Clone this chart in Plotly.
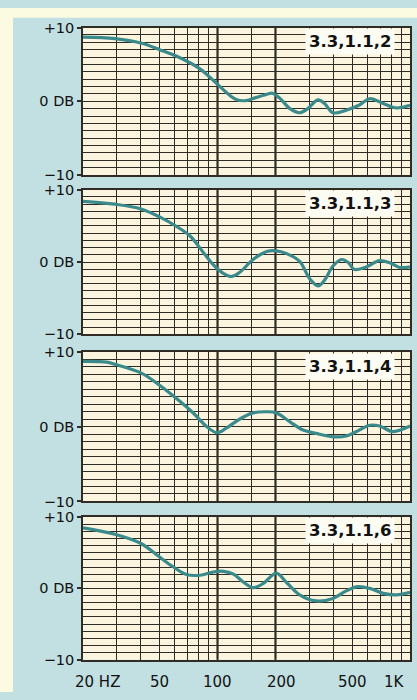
import math
import plotly.graph_objects as go

# ---------------- data ----------------
freq1 = [20, 29.3, 40, 50, 61.4, 81, 99, 116, 126, 141, 158, 183, 193, 211, 238, 267, 294, 332, 360, 398, 466, 546, 618, 726, 852, 1000]
db1 = [8.7, 8.5, 7.9, 7.0, 6.1, 4.4, 2.4, 0.8, 0.2, 0.1, 0.5, 1.0, 1.1, 0.4, -1.0, -1.55, -1.0, 0.2, -0.3, -1.55, -1.2, -0.5, 0.35, -0.3, -0.9, -0.55]

freq2 = [20, 29.3, 40, 50, 61, 72, 84, 95, 107, 118, 130, 153, 180, 202, 227, 267, 301, 333, 360, 398, 442, 479, 512, 583, 695, 784, 883, 1000]
db2 = [8.4, 8.0, 7.35, 6.25, 4.95, 3.6, 1.4, -0.35, -1.55, -2.0, -1.45, 0.35, 1.45, 1.55, 1.2, 0.1, -2.3, -3.3, -2.5, -0.55, 0.35, -0.1, -1.0, -0.75, 0.2, -0.1, -0.75, -0.65]

freq3 = [20, 26.6, 29.3, 40, 50, 61, 75, 88, 99, 111, 130, 153, 180, 202, 238, 278, 325, 398, 466, 527, 618, 695, 815, 1000]
db3 = [8.75, 8.65, 8.35, 7.2, 5.55, 3.8, 1.8, 0.0, -0.8, -0.2, 1.0, 1.85, 2.0, 1.85, 0.65, -0.45, -0.9, -1.35, -1.25, -0.65, 0.2, 0.1, -0.65, 0.1]

freq4 = [20, 29.3, 40, 50, 59, 69, 81, 95, 107, 121, 136, 153, 173, 202, 227, 267, 325, 398, 466, 536, 618, 726, 852, 1000]
db4 = [8.5, 7.6, 6.3, 4.4, 3.0, 1.95, 1.85, 2.3, 2.4, 2.0, 0.9, 0.1, 0.7, 2.15, 0.9, -0.9, -1.75, -1.4, -0.35, 0.25, 0.0, -0.7, -0.9, -0.55]

series_freqs = [freq1, freq2, freq3, freq4]
series_db = [db1, db2, db3, db4]
panel_labels = ["3.3,1.1,2", "3.3,1.1,3", "3.3,1.1,4", "3.3,1.1,6"]

y_tick_vals = [10, 0, -10]
y_tick_text = ["+10", "0 DB", "\u221210"]

grid_freqs = [30, 40, 50, 60, 70, 80, 90, 100, 150, 200, 300, 400, 500, 600, 700, 800, 900]
heavy_grid_freqs = [100, 200]

x_label_freqs = [20, 50, 100, 200, 500, 1000]
x_label_text = ["20 HZ", "50", "100", "200", "500", "1K"]

# ---------------- layout constants ----------------
W, H = 417, 700
px_rows = [(20, 171), (186, 334), (352, 505), (521, 667)]
x_dom = [83 / W, 410 / W]
x_range = [math.log10(20) - 1e-6, math.log10(1000) + 1e-6]

BLUE = "#c2dfe1"
PALE = "#fbfbe2"
CREAM = "#fbf5e0"
GRID = "#2e2c24"
CURVE = "#3a8a8c"
FONT = "DejaVu Sans"

fig = go.Figure()

for i in range(4):
    n = "" if i == 0 else str(i + 1)
    top, bot = px_rows[i]
    fig.add_trace(go.Scatter(
        x=series_freqs[i], y=series_db[i], mode="lines",
        line=dict(color=CURVE, width=3.2, shape="spline", smoothing=1.0),
        xaxis="x" + n, yaxis="y" + n, showlegend=False, hoverinfo="skip",
    ))
    fig.layout["xaxis" + n] = dict(
        type="log", range=x_range, domain=x_dom, anchor="y" + n,
        tickvals=grid_freqs, showticklabels=False, ticks="",
        showgrid=True, gridcolor=GRID, gridwidth=1.3,
        showline=True, linecolor=GRID, linewidth=1.6, mirror=True,
        zeroline=False, fixedrange=True,
    )
    fig.layout["yaxis" + n] = dict(
        range=[-10, 10], domain=[1 - bot / H, 1 - top / H], anchor="x" + n,
        tickvals=y_tick_vals, ticktext=y_tick_text,
        ticks="outside", ticklen=4, tickcolor=GRID, tickwidth=1.5,
        tickfont=dict(family=FONT, size=14.5, color="#111111"),
        showgrid=True, gridcolor=GRID, gridwidth=1.3,
        minor=dict(dtick=1, showgrid=True, gridcolor=GRID, gridwidth=1.3),
        showline=True, linecolor=GRID, linewidth=1.6, mirror=True,
        zeroline=False, fixedrange=True,
    )
    for f in heavy_grid_freqs:
        fig.add_shape(type="line", xref="x" + n, yref="y" + n + " domain",
                      x0=f, x1=f, y0=0, y1=1, line=dict(color=GRID, width=2.2), layer="below")
    fig.add_annotation(
        text="<b>" + panel_labels[i] + "</b>",
        xref="x" + n + " domain", yref="y" + n + " domain",
        x=0.815, y=0.905, xanchor="center", yanchor="middle",
        showarrow=False, bgcolor="#fdfcf3", borderpad=3,
        font=dict(family=FONT, size=16.5, color="#111111"),
    )

for f, t in zip(x_label_freqs, x_label_text):
    if t.startswith("20"):
        xa, xs = "left", -10
    elif t == "1K":
        xa, xs = "right", -3
    else:
        xa, xs = "center", 0
    fig.add_annotation(
        text=t, xref="x4", yref="paper", x=math.log10(f), y=1 - 690 / H,
        xanchor=xa, yanchor="middle", xshift=xs, showarrow=False,
        font=dict(family=FONT, size=15, color="#111111"),
    )

fig.add_shape(type="rect", xref="paper", yref="paper", x0=0, x1=13 / W, y0=0, y1=1,
              fillcolor=PALE, line=dict(width=0), layer="below")
fig.add_shape(type="rect", xref="paper", yref="paper", x0=0, x1=1, y0=1 - 10 / H, y1=1,
              fillcolor=PALE, line=dict(width=0), layer="below")

fig.update_layout(
    width=W, height=H, margin=dict(l=0, r=0, t=0, b=0),
    paper_bgcolor=BLUE, plot_bgcolor=CREAM, showlegend=False,
)

fig.write_html("out.html", config={"displayModeBar": False},
               post_script="document.body.style.margin='0';document.body.style.overflow='hidden';")
